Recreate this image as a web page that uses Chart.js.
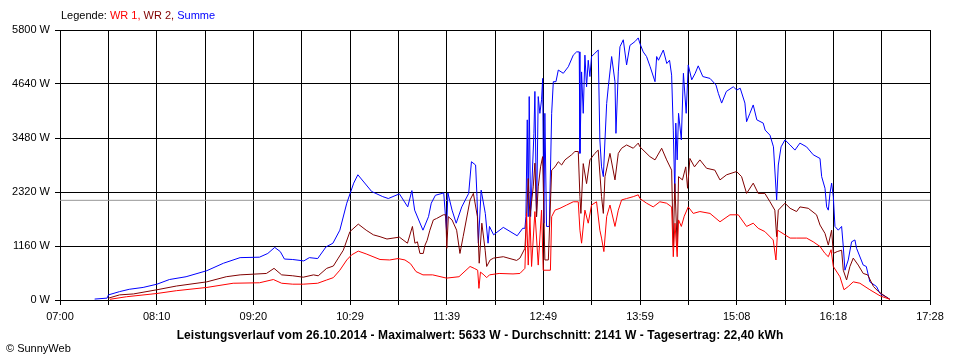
<!DOCTYPE html>
<html>
<head>
<meta charset="utf-8">
<script src="https://cdn.jsdelivr.net/npm/chart.js@4/dist/chart.umd.min.js"></script>
<style>
html,body{margin:0;padding:0;background:#fff;}
#wrap{position:relative;width:960px;height:360px;overflow:hidden;font-family:"Liberation Sans",Arial,sans-serif;color:#000;}
canvas{position:absolute;left:0;top:0;}
#legend{position:absolute;left:61px;top:9px;font-size:11px;line-height:13px;white-space:nowrap;}
#title{position:absolute;left:0;width:960px;top:328px;text-align:center;font-weight:bold;font-size:12px;letter-spacing:0.1px;line-height:14px;white-space:nowrap;}
#copy{position:absolute;left:6px;top:342px;font-size:11px;line-height:13px;white-space:nowrap;}
</style>
</head>
<body>
<div id="wrap">
<canvas id="c" width="960" height="360"></canvas>
<div id="legend">Legende: <span style="color:#ff0000">WR 1,</span> <span style="color:#800000">WR 2,</span> <span style="color:#0000ff">Summe</span></div>
<div id="title">Leistungsverlauf vom 26.10.2014 - Maximalwert: 5633 W - Durchschnitt: 2141 W - Tagesertrag: 22,40 kWh</div>
<div id="copy">© SunnyWeb</div>
</div>
<script>
// Time axis: minutes after 07:00 (axis spans 07:00 .. 17:28)
const axisMinutes = 628;
const xTickLabels = ["07:00","08:10","09:20","10:29","11:39","12:49","13:59","15:08","16:18","17:28"];
const yTicks = [0, 1160, 2320, 3480, 4640, 5800];
const averageW = 2141;

// Summe (blue)
const summeTime = [
 25,34,35,43,50,60,70,79,91,106,
 118,130,144,150,155,159,162,168,176,180,
 186,192,197,202,207,212,215,225,233,237,
 245,251,254,256,262,266,268,271,277,279,
 280,283,286,290,295,297,300,301,302,304,
 307,309,310,313,320,330,334,335.6,336.3,337.3,
 338,338.7,339.7,342.1,342.8,344,345.2,346.4,347.6,348.4,
 349.3,350,351.2,353.2,354.9,356.1,358,359.7,363.3,366.9,
 370.5,372.9,374.8,375.3,376.5,377.7,378.9,380.1,381.3,382.5,
 383.7,386.1,388.5,389.7,390.9,392.2,393.4,394.6,395.8,398.2,
 400.6,401.3,403,404.2,406.6,409,411.4,415,417.4,418.6,
 421,423.4,426,429.5,430.7,432,435.5,438,440,441.5,
 442.7,443.8,444.5,445.5,446.5,448.5,450,452,453.5,456,
 458.5,460.7,464,469.2,473.5,475.2,477.6,481,486,488.5,
 491,494.4,495.6,498,500.4,503,507.6,509,512.5,515,
 517.3,518.5,520.5,523.3,527,530.5,534.1,538.9,543.7,548.6,
 549.8,552.2,553.4,554.6,555.8,557,558.2,559.4,561.8,564.2,
 565.4,566.6,569,571.4,573.8,575,579.8,582,584.6,589.4,
 591.9,596.7,599
];
const summeW = [
 20,40,110,180,230,270,340,440,500,630,
 790,910,920,1000,1130,1040,880,870,840,910,
 890,1140,1220,1500,2080,2510,2690,2330,2220,2180,
 2280,2000,2350,1930,1500,1790,2080,2250,2300,1500,
 2300,1930,1650,2000,2290,2970,2900,2220,1220,2360,
 1860,1220,1580,1400,1560,1380,1540,1540,1790,3870,
 1790,4370,1790,3580,4480,1790,4370,4010,4300,4760,
 1650,4010,1580,1580,4010,4690,4690,4940,4870,5010,
 5260,5330,5330,3150,4900,4010,5260,4580,5150,4800,
 5230,5300,5370,3440,2860,2650,3440,4220,4580,5230,
 4690,3580,4900,5440,5590,5050,5470,5550,5630,5510,
 5330,5230,5010,4690,5230,5150,5370,5080,5150,4830,
 3650,2290,3800,3010,4010,3440,4870,4010,5050,4730,
 4870,5030,4800,4760,4620,4440,4230,4480,4580,4510,
 4550,4230,3830,4010,4190,3870,3800,3650,3540,3290,
 2150,2900,3290,3440,3330,3220,3370,3290,3120,3040,
 2650,2400,2000,1930,2290,2510,2220,1580,1500,1580,
 1150,640,860,1250,1290,1110,750,720,390,290,
 140,60,15
];

// WR 2 (dark red)
const wr2Time = [
 35,43,53,70,84,106,120,130,149,154.5,
 160,168,175.6,183,186.4,192.5,197.3,200.9,204.5,209.3,
 215.3,221,226.2,231,236,245,250.8,254.4,256.2,258,
 259.8,262.2,263.5,265,267,269.5,271.8,276.7,278.5,279.2,
 280.3,283,286.3,288.7,291,296,298.4,301.3,302.6,304.5,
 306.9,308,310.5,313,320,329.6,332,335.6,336.8,338,
 339.2,341.6,342.8,344,345.2,346.9,348.4,350,352.5,354.9,
 357.3,359.7,362.1,364.5,369.3,371.7,374.1,375.3,376,377.7,
 380.1,382.5,386.1,388.5,390.9,392.2,393.4,397,400.6,403,
 405.4,409,413.8,417.4,418.6,425.8,429.5,434.3,437.9,441.5,
 442.7,443.8,445.5,446.5,449.3,451.7,453,454.7,458,461.9,
 466.7,472.7,476.4,481.2,488.4,492,495.6,500.4,504,508.8,
 512.5,516,517.3,518.5,523.3,527,531.7,534.1,540.1,546.1,
 548.6,552.2,554.6,557,558.2,561,564.2,565.4,567.8,570.2,
 572.6,576.2,579.8,583,587.2,590.8,596.7,599
];
const wr2W = [
 40,110,130,220,300,390,500,540,570,680,
 540,520,490,540,520,680,730,900,1070,1470,
 1630,1500,1400,1360,1310,1350,1220,1580,1220,1250,
 1000,1000,1180,1280,1500,1720,1750,1830,1830,1110,
 1790,1720,1500,1000,1360,2150,2290,1790,790,1650,
 1070,720,860,900,930,850,900,1110,1790,2610,
 1790,2430,2940,1790,2430,2860,3080,860,860,2790,
 2860,2970,2900,3010,3120,3190,3190,2220,1860,2930,
 2500,3010,3150,3220,2220,1860,2650,3150,2580,3150,
 3260,3330,3260,3370,3290,3080,3010,3260,3010,2790,
 1150,2500,1150,2650,2580,2860,2400,3040,2860,3010,
 2830,2790,2580,2690,2760,2650,2290,2510,2290,2290,
 2110,1930,1360,1930,2080,1970,1900,2000,1970,1830,
 1610,1430,1180,1500,1000,1040,1070,640,430,720,
 900,750,570,540,290,180,60,15
];

// WR 1 (red)
const wr1Time = [
 36,48,70,84,106,125,144,154,160,168,
 175.6,186,192.5,197.3,202,207,210.5,215.3,221,231,
 238,244,249,253,257,262,269,279,288,296,
 299,301.5,302.4,303.5,306,308,310,317,327,332,
 335.6,336.8,338,339.2,340.4,342.8,345.2,347.6,348.8,354,
 354.9,357.3,360.9,365.7,370.5,374.1,375.3,376.5,378.9,381.3,
 383.7,387.3,389.7,390.9,392.6,394.6,397,400.6,403,405.4,
 409,413.8,417.4,418.6,423.4,428.2,433,437.8,441.5,442.7,
 443.9,445.5,446.5,448.5,450.6,453.5,457.1,461.9,469.2,476.4,
 483.6,489.6,495.6,500.4,504,508.8,514.8,516.8,518,523.3,
 527,531.7,538.9,543.7,548.6,552.2,554.6,556.6,558.2,563,
 565.9,569,572.6,577.4,584.6,591.9,599
];
const wr1W = [
 15,70,140,200,270,360,370,440,360,340,
 340,360,430,480,640,860,970,1050,990,870,
 860,890,860,780,610,540,540,470,500,720,
 680,640,250,600,540,480,540,570,560,570,
 680,1860,750,1790,720,1900,750,1930,640,640,
 1790,1930,1970,2040,2110,2110,1500,1220,1930,1650,
 2040,2110,1500,1330,1040,1790,2040,1580,1930,2150,
 2180,2220,2260,2180,2080,2000,2110,2080,2000,930,
 1650,930,1720,1580,1800,2000,1860,1900,1860,1680,
 1830,1830,1580,1650,1540,1470,1290,860,1500,1400,
 1330,1330,1330,1250,1150,1000,930,1080,720,500,
 220,290,390,360,220,90,15
];

function pts(t, v){ return t.map((x,i)=>({x:x, y:v[i]})); }
const xGrid = Array.from({length:19}, (_,i)=> i*axisMinutes/18);
const FONT = {family:'"Liberation Sans", Arial, sans-serif', size:11};

new Chart(document.getElementById('c').getContext('2d'), {
  type:'line',
  data:{datasets:[
    {label:'Durchschnitt', data:[{x:0,y:averageW},{x:axisMinutes,y:averageW}], borderColor:'#999999', borderWidth:1, order:4},
    {label:'Summe', data:pts(summeTime, summeW), borderColor:'#0000ff', borderWidth:1, order:3},
    {label:'WR 2', data:pts(wr2Time, wr2W), borderColor:'#800000', borderWidth:1, order:2},
    {label:'WR 1', data:pts(wr1Time, wr1W), borderColor:'#ff0000', borderWidth:1, order:1}
  ]},
  options:{
    responsive:false, animation:false, devicePixelRatio:1,
    elements:{point:{radius:0}, line:{tension:0, fill:false}},
    layout:{padding:{left:0, right:30, top:30, bottom:0}},
    plugins:{legend:{display:false}, tooltip:{enabled:false}, title:{display:false}},
    scales:{
      x:{type:'linear', min:0, max:axisMinutes,
         afterBuildTicks:s=>{s.ticks = xGrid.map(v=>({value:v}));},
         afterFit:s=>{s.height = 60;},
         ticks:{autoSkip:false, maxRotation:0, minRotation:0, color:'#000', font:FONT, padding:5,
                callback:(v,i)=> (i%2===0 ? xTickLabels[i/2] : '')},
         grid:{color:'#000', lineWidth:1, tickLength:5, drawTicks:true},
         border:{color:'#000', width:1}},
      y:{min:0, max:5800,
         afterBuildTicks:s=>{s.ticks = yTicks.map(v=>({value:v}));},
         afterFit:s=>{s.width = 60;},
         ticks:{color:'#000', font:FONT, padding:5, callback:v=> v + ' W'},
         grid:{color:'#000', lineWidth:1, tickLength:5, drawTicks:true},
         border:{color:'#000', width:1}}
    }
  }
});
</script>
</body>
</html>
